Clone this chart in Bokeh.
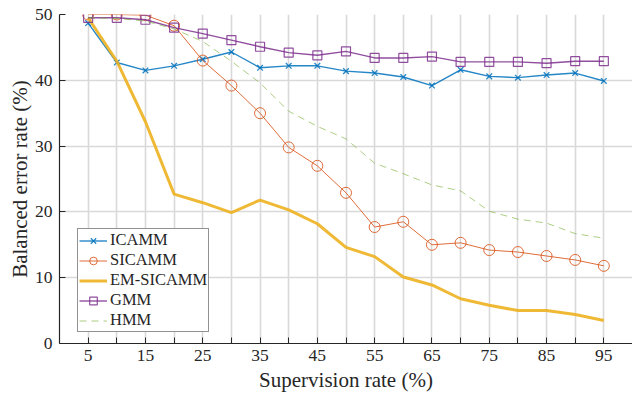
from bokeh.plotting import figure
from bokeh.models import FixedTicker, Range1d, Legend
from bokeh.embed import file_html
from bokeh.resources import INLINE

rates = [5, 10, 15, 20, 25, 30, 35, 40, 45, 50, 55, 60, 65, 70, 75, 80, 85, 90, 95]
icamm = [48.7, 42.7, 41.5, 42.2, 43.2, 44.3, 41.9, 42.2, 42.2, 41.4, 41.1, 40.5, 39.2, 41.6, 40.6, 40.4, 40.8, 41.1, 39.9]
sicamm = [50.0, 50.0, 49.9, 48.3, 43.0, 39.2, 35.0, 29.8, 27.0, 22.9, 17.7, 18.5, 15.0, 15.3, 14.2, 13.9, 13.3, 12.7, 11.8]
em_sicamm = [49.5, 42.9, 33.7, 22.7, 21.4, 19.9, 21.8, 20.3, 18.2, 14.6, 13.2, 10.1, 8.9, 6.8, 5.8, 5.0, 5.0, 4.4, 3.5]
gmm = [49.5, 49.5, 49.2, 48.0, 47.1, 46.1, 45.1, 44.2, 43.8, 44.4, 43.4, 43.4, 43.6, 42.8, 42.8, 42.8, 42.6, 42.9, 42.9]
hmm = [49.5, 49.4, 49.0, 47.8, 45.9, 42.9, 39.6, 35.3, 33.0, 31.1, 27.4, 25.8, 24.1, 23.2, 20.1, 18.9, 18.3, 16.7, 16.0]

x_ticks = [5, 10, 15, 20, 25, 30, 35, 40, 45, 50, 55, 60, 65, 70, 75, 80, 85, 90, 95]
x_labels = ["5", "", "15", "", "25", "", "35", "", "45", "", "55", "", "65", "", "75", "", "85", "", "95"]
y_ticks = [0, 10, 20, 30, 40, 50]

FONT = "Liberation Serif"

p = figure(width=632, height=394, output_backend="svg", toolbar_location=None,
           x_range=Range1d(0, 100), y_range=Range1d(0, 50),
           min_border_left=59, min_border_right=0, min_border_top=14, min_border_bottom=50)
p.outline_line_color = None
p.background_fill_color = "white"

for ax in (p.xaxis[0], p.yaxis[0]):
    ax.axis_line_color = "#262626"
    ax.axis_line_width = 1.2
    ax.major_tick_in = 6
    ax.major_tick_out = 0
    ax.minor_tick_line_color = None
    ax.major_tick_line_color = "#262626"
    ax.major_label_text_font = FONT
    ax.major_label_text_font_size = "17.5px"
    ax.major_label_text_color = "#262626"
    ax.axis_label_text_font = FONT
    ax.axis_label_text_font_size = "21px"
    ax.axis_label_text_font_style = "normal"
    ax.axis_label_text_color = "#262626"

p.xaxis.ticker = FixedTicker(ticks=x_ticks)
p.xaxis.major_label_overrides = {t: l for t, l in zip(x_ticks, x_labels)}
p.xaxis.major_label_standoff = 6
p.xaxis.axis_label = "Supervision rate (%)"
p.xaxis.axis_label_standoff = 4

p.yaxis.ticker = FixedTicker(ticks=y_ticks)
p.yaxis.major_label_standoff = 7
p.yaxis.axis_label = "Balanced error rate (%)"
p.yaxis.axis_label_standoff = 0

p.xgrid.grid_line_color = "#d9d9d9"
p.xgrid.grid_line_width = 1.6
p.ygrid.grid_line_color = "#d9d9d9"
p.ygrid.grid_line_width = 1.6

blue = "#0072BD"
red = "#D95319"
yellow = "#EDB120"
purple = "#7E2F8E"
green = "#77AC30"

r1 = p.line(rates, icamm, line_color=blue, line_width=1.4, line_alpha=0.85)
m1 = p.scatter(rates, icamm, marker="x", size=8, line_color=blue, line_width=1.3, line_alpha=0.85)
r2 = p.line(rates, sicamm, line_color=red, line_width=1.0, line_alpha=0.85)
m2 = p.scatter(rates, sicamm, marker="circle", size=11, line_color=red, fill_color=None, line_width=1.0, line_alpha=0.85)
r3 = p.line(rates, em_sicamm, line_color=yellow, line_width=3.0, line_alpha=0.9)
r4 = p.line(rates, gmm, line_color=purple, line_width=1.4, line_alpha=0.85)
m4 = p.scatter(rates, gmm, marker="square", size=9, line_color=purple, fill_color=None, line_width=1.2, line_alpha=0.85)
r5 = p.line(rates, hmm, line_color=green, line_width=1.0, line_alpha=0.6, line_dash="7 5")

legend = Legend(items=[("ICAMM", [r1, m1]), ("SICAMM", [r2, m2]), ("EM-SICAMM", [r3]),
                       ("GMM", [r4, m4]), ("HMM", [r5])],
                location=(18, 11))
legend.label_text_font = FONT
legend.label_text_font_size = "16.5px"
legend.label_text_color = "#262626"
legend.label_standoff = 3
legend.label_height = 19
legend.glyph_height = 19
legend.glyph_width = 28
legend.spacing = 0
legend.padding = 1
legend.margin = 0
legend.border_line_color = "#262626"
legend.border_line_width = 1
legend.background_fill_color = "white"
legend.background_fill_alpha = 1.0
p.add_layout(legend, "center")

open("out.html", "w").write(file_html(p, INLINE))
